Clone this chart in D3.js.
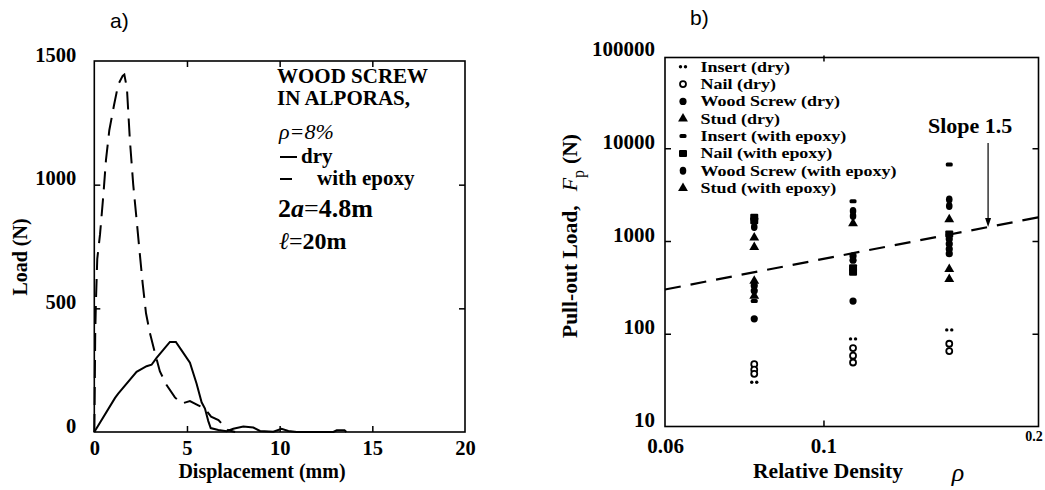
<!DOCTYPE html>
<html><head><meta charset="utf-8">
<script src="https://cdn.jsdelivr.net/npm/d3@7"></script>
<style>
body{margin:0;background:#fff}
text{font-family:"Liberation Serif","Times New Roman",serif;font-weight:bold;fill:#000}
.sans{font-family:"Liberation Sans",Arial,sans-serif;font-weight:normal}
</style>
</head><body>
<svg id="c" width="1045" height="490"></svg>
<script>
// ---------- Panel a data ----------
const dispTicks = [0, 5, 10, 15, 20];
const loadTicks = [0, 500, 1000, 1500];
const dryDisp  = [0, 1.12, 1.29, 2.28, 2.82, 3.09, 3.36, 3.81, 4.08, 4.40, 4.71, 5.16, 5.52, 5.79, 5.97, 6.15, 6.28, 6.69, 7.14, 7.5, 8.04, 8.58, 8.94, 9.66, 10.1, 10.47, 10.92, 12.9, 13.08, 13.5, 13.6];
const dryLoad  = [0, 138, 155, 243, 266, 272, 300, 340, 364, 364, 330, 280, 195, 120, 95, 44, 16, 8, 3, 13, 22, 18, 4, 1, 13, 4, 0, 0, 7, 7, 0];
const epoxyDisp = [0, 0.02, 0.05, 0.09, 0.16, 0.31, 0.49, 0.63, 0.81, 1.06, 1.29, 1.53, 1.62, 1.76, 1.92, 2.10, 2.28, 2.43, 2.61, 2.79, 3.0, 3.27, 3.54, 3.9, 4.35, 4.71, 5.16, 5.61, 5.97, 6.3, 6.7, 7.2, 7.6];
const epoxyLoad = [0, 128, 398, 533, 700, 800, 960, 1100, 1220, 1320, 1405, 1440, 1445, 1390, 1180, 1000, 860, 740, 600, 480, 400, 320, 245, 190, 140, 115, 125, 108, 94, 62, 48, 8, 0];

// ---------- Panel b data ----------
const densityTicks = [0.06, 0.1, 0.2];
const forceTicks = [10, 100, 1000, 10000, 100000];
const insertDry      = [[0.08, 30], [0.11, 88], [0.15, 110]];
const nailDry        = [[0.08, 47], [0.08, 41], [0.08, 37], [0.11, 70], [0.11, 58], [0.11, 49], [0.15, 78], [0.15, 65]];
const woodScrewDry   = [[0.08, 330], [0.08, 290], [0.08, 145], [0.11, 690], [0.11, 620], [0.11, 225], [0.15, 1050], [0.15, 930], [0.15, 820], [0.15, 730]];
const studDry        = [[0.08, 372], [0.08, 256], [0.15, 497], [0.15, 387]];
const insertEpoxy    = [[0.08, 226], [0.11, 2690], [0.15, 6680]];
const nailEpoxy      = [[0.08, 1800], [0.08, 1650], [0.11, 515], [0.11, 460], [0.15, 1190]];
const woodScrewEpoxy = [[0.08, 1415], [0.11, 2100], [0.11, 1860], [0.15, 2800], [0.15, 2380]];
const studEpoxy      = [[0.08, 1085], [0.08, 860], [0.11, 1550], [0.15, 1710]];
const slopeRho = [0.06, 0.2];
const slopeF   = [300, 1800];
const arrowRho = 0.17, arrowTopF = 11400, arrowEndF = 1420;
const legendLabels = ["Insert (dry)", "Nail (dry)", "Wood Screw (dry)", "Stud (dry)",
  "Insert (with epoxy)", "Nail (with epoxy)", "Wood Screw (with epoxy)", "Stud (with epoxy)"];
const legendTypes = ["insertDry", "nailDry", "woodScrewDry", "studDry", "insertEpoxy", "nailEpoxy", "woodScrewEpoxy", "studEpoxy"];

const svg = d3.select("#c");
svg.append("rect").attr("width", 1045).attr("height", 490).attr("fill", "#fff");

function styleAxis(g, fs) {
  g.select(".domain").remove();
  g.selectAll(".tick line").attr("stroke", "#000").attr("stroke-width", 1.5);
  g.selectAll("text").attr("font-size", fs || 20).attr("fill", "#000")
    .style("font-family", '"Liberation Serif",serif').style("font-weight", "bold");
}

// ================= Panel a =================
const xa = d3.scaleLinear().domain([0, 20]).range([94.3, 465]);
const ya = d3.scaleLinear().domain([0, 1500]).range([432, 61]);
const ga = svg.append("g");

ga.append("g").attr("transform", `translate(0,${ya(0)})`)
  .call(d3.axisBottom(xa).tickValues(dispTicks).tickSize(-6).tickPadding(8).tickFormat(d3.format("d")))
  .call(g => styleAxis(g, 20.5))
  .call(g => g.selectAll(".tick").filter(d => d === 0 || d === 20).select("line").remove());
ga.append("g").attr("transform", `translate(0,${ya(1500)})`)
  .call(d3.axisTop(xa).tickValues(dispTicks.slice(1, -1)).tickSize(-6).tickFormat(""))
  .call(g => styleAxis(g));
ga.append("g").attr("transform", `translate(${xa(0)},0)`)
  .call(d3.axisLeft(ya).tickValues(loadTicks).tickSize(-6).tickPadding(18).tickFormat(d3.format("d")))
  .call(g => styleAxis(g, 20.5))
  .call(g => g.selectAll("text").attr("dy", 0))
  .call(g => g.selectAll(".tick").filter(d => d === 0 || d === 1500).select("line").remove());
ga.append("g").attr("transform", `translate(${xa(20)},0)`)
  .call(d3.axisRight(ya).tickValues(loadTicks.slice(1, -1)).tickSize(-6).tickFormat(""))
  .call(g => styleAxis(g));
ga.append("rect").attr("x", xa(0)).attr("y", ya(1500)).attr("width", xa(20) - xa(0)).attr("height", ya(0) - ya(1500))
  .attr("fill", "none").attr("stroke", "#000").attr("stroke-width", 1.6);

const lineA = d3.line().x(d => xa(d[0])).y(d => ya(d[1]));
ga.append("path").datum(dryDisp.map((d, i) => [d, dryLoad[i]])).attr("d", lineA)
  .attr("fill", "none").attr("stroke", "#000").attr("stroke-width", 2);
ga.append("path").datum(epoxyDisp.map((d, i) => [d, epoxyLoad[i]])).attr("d", lineA)
  .attr("fill", "none").attr("stroke", "#000").attr("stroke-width", 2).attr("stroke-dasharray", "18,9");

ga.append("text").attr("class", "sans").attr("x", 110).attr("y", 28).attr("font-size", 21).text("a)");
ga.append("text").attr("transform", "translate(27,257) rotate(-90)").attr("text-anchor", "middle").attr("font-size", 20).text("Load (N)");
ga.append("text").attr("x", 262).attr("y", 478).attr("text-anchor", "middle").attr("font-size", 20).text("Displacement (mm)");

const ax = 277;
ga.append("text").attr("x", ax).attr("y", 83).attr("font-size", 21).text("WOOD SCREW");
ga.append("text").attr("x", ax).attr("y", 105).attr("font-size", 21).text("IN ALPORAS,");
ga.append("text").attr("x", ax + 2).attr("y", 139).attr("font-size", 22).style("font-style", "italic").style("font-weight", "normal").text("ρ=8%");
ga.append("line").attr("x1", ax + 3).attr("x2", ax + 20).attr("y1", 157).attr("y2", 157).attr("stroke", "#000").attr("stroke-width", 2);
ga.append("text").attr("x", ax + 24).attr("y", 163).attr("font-size", 21).text("dry");
ga.append("line").attr("x1", ax + 3).attr("x2", ax + 15).attr("y1", 179).attr("y2", 179).attr("stroke", "#000").attr("stroke-width", 2);
ga.append("text").attr("x", ax + 40).attr("y", 185).attr("font-size", 21).text("with epoxy");
const t2a = ga.append("text").attr("x", ax + 1).attr("y", 217).attr("font-size", 26);
t2a.append("tspan").text("2");
t2a.append("tspan").style("font-style", "italic").text("a");
t2a.append("tspan").style("font-weight", "normal").text("=");
t2a.append("tspan").text("4.8m");
const tl = ga.append("text").attr("x", ax + 2).attr("y", 249).attr("font-size", 24);
tl.append("tspan").style("font-style", "italic").style("font-weight", "normal").text("ℓ");
tl.append("tspan").style("font-weight", "normal").text("=");
tl.append("tspan").text("20m");

// ================= Panel b =================
const xb = d3.scaleLog().domain([0.06, 0.2]).range([665, 1038.5]);
const yb = d3.scaleLog().domain([10, 100000]).range([426.5, 55.5]);
const gb = svg.append("g");

gb.append("g").attr("transform", `translate(0,${yb(10)})`)
  .call(d3.axisBottom(xb).tickValues(densityTicks).tickSize(-6).tickPadding(12).tickFormat(d => String(d)))
  .call(g => styleAxis(g, 21))
  .call(g => g.selectAll(".tick").filter(d => d !== 0.1).select("line").remove())
  .call(g => g.selectAll(".tick").filter(d => d === 0.2).select("text")
    .attr("font-size", 14).attr("y", 5).attr("dx", -5));
gb.append("g").attr("transform", `translate(0,${yb(100000)})`)
  .call(d3.axisTop(xb).tickValues([0.1]).tickSize(-6).tickFormat(""))
  .call(g => styleAxis(g));
gb.append("g").attr("transform", `translate(${xb(0.06)},0)`)
  .call(d3.axisLeft(yb).tickValues(forceTicks).tickSize(-6).tickPadding(10).tickFormat(d3.format("d")))
  .call(g => styleAxis(g, 21))
  .call(g => g.selectAll("text").attr("dy", 0))
  .call(g => g.selectAll(".tick").filter(d => d === 10 || d === 100000).select("line").remove());
gb.append("g").attr("transform", `translate(${xb(0.2)},0)`)
  .call(d3.axisRight(yb).tickValues(forceTicks.slice(1, -1)).tickSize(-6).tickFormat(""))
  .call(g => styleAxis(g));
gb.append("rect").attr("x", xb(0.06)).attr("y", yb(100000) + 2).attr("width", xb(0.2) - xb(0.06)).attr("height", yb(10) - yb(100000) - 2)
  .attr("fill", "none").attr("stroke", "#000").attr("stroke-width", 1.6);

// slope line
gb.append("path").datum(slopeRho.map((d, i) => [d, slopeF[i]]))
  .attr("d", d3.line().x(d => xb(d[0])).y(d => yb(d[1])))
  .attr("fill", "none").attr("stroke", "#000").attr("stroke-width", 2.2).attr("stroke-dasharray", "16,10");

// markers
function marker(g, type, cx, cy) {
  switch (type) {
    case "insertDry":
      g.append("circle").attr("cx", cx - 2.5).attr("cy", cy).attr("r", 1.7).attr("fill", "#000");
      g.append("circle").attr("cx", cx + 2.5).attr("cy", cy).attr("r", 1.7).attr("fill", "#000");
      break;
    case "nailDry":
      g.append("circle").attr("cx", cx).attr("cy", cy).attr("r", 3).attr("fill", "#fff").attr("stroke", "#000").attr("stroke-width", 1.8);
      break;
    case "woodScrewDry":
      g.append("circle").attr("cx", cx).attr("cy", cy).attr("r", 3.6).attr("fill", "#000");
      break;
    case "woodScrewEpoxy":
      g.append("ellipse").attr("cx", cx).attr("cy", cy).attr("rx", 3.3).attr("ry", 4).attr("fill", "#000");
      break;
    case "studDry":
    case "studEpoxy":
      g.append("path").attr("transform", `translate(${cx},${cy})`)
        .attr("d", d3.symbol(d3.symbolTriangle, 42)()).attr("fill", "#000");
      break;
    case "insertEpoxy":
      g.append("rect").attr("x", cx - 3.5).attr("y", cy - 2).attr("width", 7).attr("height", 4).attr("rx", 1.5).attr("fill", "#000");
      break;
    case "nailEpoxy":
      g.append("rect").attr("x", cx - 4).attr("y", cy - 3.5).attr("width", 8).attr("height", 7).attr("rx", 1).attr("fill", "#000");
      break;
  }
}
const series = {insertDry, nailDry, woodScrewDry, studDry, insertEpoxy, nailEpoxy, woodScrewEpoxy, studEpoxy};
const gm = gb.append("g");
for (const key of legendTypes) {
  series[key].forEach(d => marker(gm, key, xb(d[0]), yb(d[1])));
}

// legend
const lg = gb.append("g");
legendLabels.forEach((lab, i) => {
  const by = 71.7 + i * 17.35;
  marker(lg, legendTypes[i], 683, by - 5);
  lg.append("text").attr("transform", `translate(700.5,${by}) scale(1.2,1)`).attr("font-size", 15).text(lab);
});

// slope annotation
gb.append("text").attr("x", 928).attr("y", 133).attr("font-size", 22).text("Slope 1.5");
gb.append("line").attr("x1", xb(arrowRho)).attr("x2", xb(arrowRho))
  .attr("y1", yb(arrowTopF)).attr("y2", yb(arrowEndF) - 6).attr("stroke", "#000").attr("stroke-width", 1.2);
gb.append("path").attr("d", `M${xb(arrowRho) - 3},${yb(arrowEndF) - 9} L${xb(arrowRho)},${yb(arrowEndF)} L${xb(arrowRho) + 3},${yb(arrowEndF) - 9} Z`).attr("fill", "#000");

// titles
gb.append("text").attr("class", "sans").attr("x", 690).attr("y", 25).attr("font-size", 21).text("b)");
const yl = gb.append("text").attr("transform", "translate(577,236) rotate(-90)").attr("text-anchor", "middle").attr("font-size", 21.5);
yl.append("tspan").text("Pull-out Load,");
yl.append("tspan").attr("dx", 14).style("font-style", "italic").style("font-weight", "normal").attr("font-size", 22).text("F");
yl.append("tspan").attr("dy", 7).attr("font-size", 16).style("font-weight", "normal").text("p");
yl.append("tspan").attr("dy", -7).attr("dx", 6).text("(N)");
gb.append("text").attr("x", 828).attr("y", 478).attr("text-anchor", "middle").attr("font-size", 21.5).text("Relative Density");
gb.append("text").attr("x", 958).attr("y", 481).attr("text-anchor", "middle").attr("font-size", 26)
  .style("font-style", "italic").style("font-weight", "normal").text("ρ");
</script>
</body></html>
